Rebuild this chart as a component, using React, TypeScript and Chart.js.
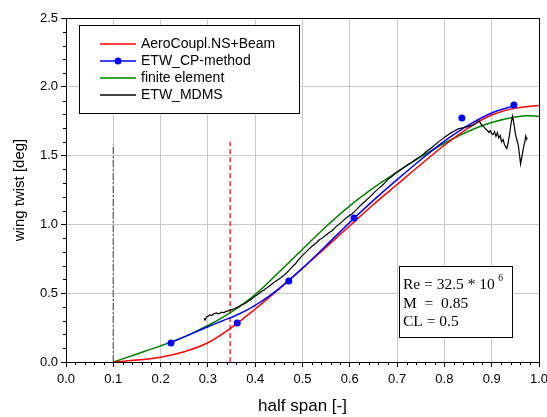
import React, { useEffect, useRef } from 'react';
import { Chart, registerables } from 'chart.js';

Chart.register(...registerables);

// ---------- data ----------
const aeroSpan = [0.1, 0.15, 0.2, 0.25, 0.3, 0.35, 0.4, 0.45, 0.5, 0.55, 0.6, 0.65, 0.7, 0.75, 0.8, 0.85, 0.9, 0.95, 1.0];
const aeroTwist = [0.0, 0.014, 0.035, 0.075, 0.14, 0.25, 0.385, 0.53, 0.68, 0.835, 0.99, 1.145, 1.29, 1.435, 1.575, 1.7, 1.795, 1.845, 1.865];

const cpLineSpan = [0.22, 0.26, 0.3, 0.33, 0.36, 0.4, 0.45, 0.5, 0.55, 0.6, 0.65, 0.7, 0.75, 0.8, 0.85, 0.9, 0.95];
const cpLineTwist = [0.14, 0.197, 0.256, 0.298, 0.34, 0.412, 0.532, 0.682, 0.847, 1.015, 1.175, 1.325, 1.47, 1.605, 1.72, 1.81, 1.865];

const cpPointSpan = [0.222, 0.362, 0.471, 0.609, 0.837, 0.947];
const cpPointTwist = [0.138, 0.284, 0.589, 1.047, 1.773, 1.868];

const feSpan = [0.1, 0.15, 0.2, 0.25, 0.3, 0.35, 0.4, 0.45, 0.5, 0.55, 0.6, 0.65, 0.7, 0.75, 0.8, 0.85, 0.9, 0.95, 0.975, 1.0];
const feTwist = [0.0, 0.058, 0.117, 0.183, 0.265, 0.365, 0.49, 0.652, 0.82, 0.985, 1.135, 1.265, 1.38, 1.49, 1.59, 1.675, 1.74, 1.78, 1.79, 1.785];

const mdmsPoints: [number, number][] = [
  [0.292, 0.318], [0.294, 0.305], [0.297, 0.328], [0.3, 0.333], [0.304, 0.342], [0.308, 0.338],
  [0.312, 0.35], [0.318, 0.357], [0.322, 0.35], [0.326, 0.356], [0.33, 0.362], [0.334, 0.358],
  [0.338, 0.368], [0.343, 0.372], [0.347, 0.377], [0.352, 0.383], [0.357, 0.389], [0.361, 0.397],
  [0.366, 0.402], [0.37, 0.412], [0.375, 0.42], [0.38, 0.428], [0.385, 0.442], [0.389, 0.449],
  [0.394, 0.462], [0.398, 0.474], [0.403, 0.486], [0.408, 0.497], [0.413, 0.512], [0.418, 0.522],
  [0.424, 0.537], [0.43, 0.553], [0.436, 0.568], [0.442, 0.584], [0.448, 0.598], [0.454, 0.612],
  [0.46, 0.628], [0.466, 0.647], [0.472, 0.668], [0.478, 0.69], [0.485, 0.714], [0.492, 0.744],
  [0.5, 0.775], [0.507, 0.797], [0.514, 0.822], [0.521, 0.845], [0.528, 0.861], [0.535, 0.886],
  [0.542, 0.902], [0.549, 0.921], [0.556, 0.94], [0.563, 0.956], [0.57, 0.98], [0.577, 1.0],
  [0.584, 1.02], [0.591, 1.043], [0.598, 1.061], [0.605, 1.078], [0.612, 1.1], [0.619, 1.126],
  [0.626, 1.148], [0.633, 1.17], [0.64, 1.193], [0.647, 1.215], [0.654, 1.24], [0.661, 1.262],
  [0.668, 1.281], [0.675, 1.305], [0.682, 1.332], [0.689, 1.348], [0.696, 1.37], [0.703, 1.388],
  [0.71, 1.404], [0.717, 1.421], [0.724, 1.437], [0.731, 1.452], [0.738, 1.47], [0.745, 1.485],
  [0.752, 1.5], [0.759, 1.521], [0.766, 1.54], [0.773, 1.557], [0.78, 1.578], [0.787, 1.598],
  [0.794, 1.616], [0.801, 1.636], [0.808, 1.652], [0.815, 1.668], [0.822, 1.681], [0.829, 1.694],
  [0.836, 1.7], [0.843, 1.706], [0.85, 1.711], [0.856, 1.718], [0.861, 1.722], [0.866, 1.733],
  [0.87, 1.748], [0.873, 1.752], [0.876, 1.738], [0.879, 1.722], [0.882, 1.712], [0.885, 1.703],
  [0.888, 1.69], [0.891, 1.683], [0.894, 1.668], [0.897, 1.681], [0.9, 1.66], [0.903, 1.652],
  [0.906, 1.674], [0.909, 1.64], [0.912, 1.668], [0.915, 1.628], [0.918, 1.646], [0.921, 1.6],
  [0.924, 1.617], [0.927, 1.58], [0.93, 1.562], [0.932, 1.552], [0.935, 1.598], [0.938, 1.66],
  [0.941, 1.735], [0.944, 1.786], [0.947, 1.73], [0.95, 1.66], [0.953, 1.615], [0.956, 1.58],
  [0.959, 1.5], [0.961, 1.44], [0.964, 1.495], [0.967, 1.556], [0.97, 1.6], [0.972, 1.642],
  [0.974, 1.62], [0.975, 1.632],
];

const rootSpan = 0.1;
const rootLineTop = 1.58;
const kinkSpan = 0.347;
const kinkLineTop = 1.6;

const xTickStep = 0.1;
const yTickStep = 0.5;
const xMinorStep = 0.02;
const yMinorStep = 0.1;

const legendLabels = ['AeroCoupl.NS+Beam', 'ETW_CP-method', 'finite element', 'ETW_MDMS'];
const legendColors = ['#ff0000', '#0000ff', '#008000', '#000000'];
const infoLines = ['Re = 32.5 * 10', 'M  =  0.85', 'CL = 0.5'];
const infoSuperscript = '6';

const SANS = '"Liberation Sans", Arial, sans-serif';
const SERIF = '"Liberation Serif", "Times New Roman", serif';

const toXY = (xs: number[], ys: number[]) => xs.map((x, i) => ({ x, y: ys[i] }));

const decorPlugin = {
  id: 'decor',
  afterDatasetsDraw(chart: any) {
    const { ctx, chartArea: a, scales } = chart;
    const xs = scales.x;
    const ys = scales.y;
    ctx.save();
    // minor ticks
    ctx.strokeStyle = '#000';
    ctx.lineWidth = 1;
    ctx.beginPath();
    for (let i = 0; i <= Math.round(1 / xMinorStep); i++) {
      if (i % 5 === 0) continue;
      const px = Math.round(xs.getPixelForValue(i * xMinorStep)) + 0.5;
      ctx.moveTo(px, Math.round(a.bottom));
      ctx.lineTo(px, Math.round(a.bottom) + 3);
    }
    for (let i = 0; i <= Math.round(2.5 / yMinorStep); i++) {
      if (i % 5 === 0) continue;
      const py = Math.round(ys.getPixelForValue(i * yMinorStep)) + 0.5;
      ctx.moveTo(Math.round(a.left), py);
      ctx.lineTo(Math.round(a.left) - 3, py);
    }
    ctx.stroke();
    // frame
    ctx.strokeRect(Math.round(a.left) + 0.5, Math.round(a.top) + 0.5, Math.round(a.right - a.left), Math.round(a.bottom - a.top));

    // legend box
    ctx.fillStyle = '#fff';
    ctx.fillRect(79.5, 25.5, 220, 88);
    ctx.strokeRect(79.5, 25.5, 220, 88);
    ctx.font = `14px ${SANS}`;
    ctx.textBaseline = 'middle';
    ctx.textAlign = 'left';
    legendLabels.forEach((label, i) => {
      const yy = 44 + i * 17;
      ctx.strokeStyle = legendColors[i];
      ctx.lineWidth = 1.5;
      ctx.beginPath();
      ctx.moveTo(100, yy);
      ctx.lineTo(136, yy);
      ctx.stroke();
      if (i === 1) {
        ctx.fillStyle = legendColors[i];
        ctx.beginPath();
        ctx.arc(118, yy, 3.5, 0, Math.PI * 2);
        ctx.fill();
      }
      ctx.fillStyle = '#000';
      ctx.fillText(label, 141, yy + 0.5);
    });

    // info box
    ctx.strokeStyle = '#000';
    ctx.lineWidth = 1;
    ctx.fillStyle = '#fff';
    ctx.fillRect(399.5, 266.5, 113, 71);
    ctx.strokeRect(399.5, 266.5, 113, 71);
    ctx.fillStyle = '#000';
    ctx.font = `15.5px ${SERIF}`;
    ctx.textBaseline = 'alphabetic';
    infoLines.forEach((t, i) => {
      ctx.fillText(t, 403, 289 + i * 18.7);
    });
    const w0 = ctx.measureText(infoLines[0]).width;
    ctx.font = `9.5px ${SERIF}`;
    ctx.fillText(infoSuperscript, 403 + w0 + 3.5, 281);
    ctx.restore();
  },
};

export default function App() {
  const ref = useRef<HTMLCanvasElement>(null);
  useEffect(() => {
    if (!ref.current) return;
    const chart = new Chart(ref.current, {
      type: 'line',
      data: {
        datasets: [
          {
            label: 'ETW_MDMS',
            data: mdmsPoints.map(([x, y]) => ({ x, y })),
            borderColor: '#000',
            borderWidth: 1.2,
            pointRadius: 0,
            tension: 0,
          },
          {
            label: 'ETW_CP-method points',
            data: toXY(cpPointSpan, cpPointTwist),
            showLine: false,
            pointRadius: 3.5,
            pointBackgroundColor: '#0000ff',
            pointBorderColor: '#0000ff',
            pointBorderWidth: 0,
          },
          {
            label: 'ETW_CP-method',
            data: toXY(cpLineSpan, cpLineTwist),
            borderColor: '#0000ff',
            borderWidth: 1.5,
            pointRadius: 0,
            cubicInterpolationMode: 'monotone',
          },
          {
            label: 'AeroCoupl.NS+Beam',
            data: toXY(aeroSpan, aeroTwist),
            borderColor: '#ff0000',
            borderWidth: 1.5,
            pointRadius: 0,
            cubicInterpolationMode: 'monotone',
          },
          {
            label: 'finite element',
            data: toXY(feSpan, feTwist),
            borderColor: '#008000',
            borderWidth: 1.5,
            pointRadius: 0,
            cubicInterpolationMode: 'monotone',
          },
          {
            label: 'kink',
            data: [{ x: kinkSpan, y: 0 }, { x: kinkSpan, y: kinkLineTop }],
            borderColor: '#ff0000',
            borderWidth: 1.2,
            borderDash: [5, 3],
            pointRadius: 0,
          },
          {
            label: 'root',
            data: [{ x: rootSpan, y: 0 }, { x: rootSpan, y: rootLineTop }],
            borderColor: '#6e6e6e',
            borderWidth: 1.4,
            borderDash: [7, 2, 2, 2],
            pointRadius: 0,
          },
        ],
      } as any,
      options: {
        animation: false,
        responsive: false,
        parsing: false as any,
        layout: { padding: { top: 18, right: 8, left: 0, bottom: 0 } },
        plugins: { legend: { display: false }, tooltip: { enabled: false } },
        scales: {
          x: {
            type: 'linear',
            min: 0,
            max: 1,
            border: { display: false },
            grid: { color: '#c8c8c8', lineWidth: 1, tickColor: '#000', tickLength: 5, drawTicks: true },
            ticks: {
              stepSize: xTickStep,
              autoSkip: false,
              maxRotation: 0,
              padding: 5,
              color: '#000',
              font: { family: SANS, size: 13 },
              callback: (v: any) => Number(v).toFixed(1),
            },
            title: {
              display: true,
              text: 'half span [-]',
              color: '#000',
              font: { family: SANS, size: 17 },
              padding: { top: 0, bottom: 0 },
            },
            afterFit: (s: any) => { s.height = 55; s.paddingLeft = 0; s.paddingRight = 0; },
          },
          y: {
            type: 'linear',
            min: 0,
            max: 2.5,
            border: { display: false },
            grid: { color: '#c8c8c8', lineWidth: 1, tickColor: '#000', tickLength: 5, drawTicks: true },
            ticks: {
              stepSize: yTickStep,
              padding: 3,
              color: '#000',
              font: { family: SANS, size: 13 },
              callback: (v: any) => Number(v).toFixed(1),
            },
            title: {
              display: true,
              text: 'wing twist [deg]',
              color: '#000',
              font: { family: SANS, size: 15 },
              padding: { top: 11, bottom: 0 },
            },
            afterFit: (s: any) => { s.width = 66; s.paddingTop = 0; s.paddingBottom = 0; },
          },
        },
      } as any,
      plugins: [decorPlugin],
    });
    return () => chart.destroy();
  }, []);
  return (
    <div style={{ position: 'fixed', left: 0, top: 0, width: 547, height: 417, background: '#fff' }}>
      <canvas ref={ref} width={547} height={417} />
    </div>
  );
}
